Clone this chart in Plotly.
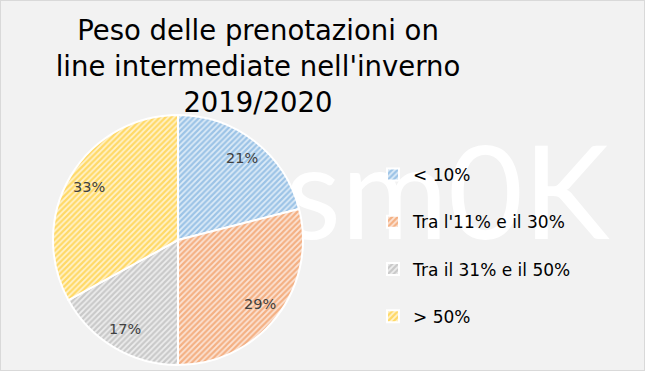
import math
import plotly.graph_objects as go

categories = ["< 10%", "Tra l'11% e il 30%", "Tra il 31% e il 50%", "> 50%"]
values = [21, 29, 17, 33]
colors = ["#5B9BD5", "#ED7D31", "#A5A5A5", "#FFC000"]
light_colors = ["#DDEBF7", "#FBE3D5", "#EDEDED", "#FFF2CC"]
title_text = "Peso delle prenotazioni on<br>line intermediate nell'inverno<br>2019/2020"
watermark = "sm0K"

W, H = 645, 371
FONT = "DejaVu Sans"

# pie geometry (pixels from top-left)
CX, CY, R = 178, 240, 125
dom_x = [(CX - R) / W, (CX + R) / W]
dom_y = [1 - (CY + R) / H, 1 - (CY - R) / H]

legend_labels = [c + "<br> " for c in categories]

fig = go.Figure()
fig.add_trace(go.Pie(
    labels=legend_labels,
    values=values,
    sort=False,
    direction="clockwise",
    rotation=0,
    marker=dict(
        colors=colors,
        line=dict(color="white", width=2),
        pattern=dict(shape="/", fgcolor=colors, bgcolor=light_colors,
                     size=4, solidity=0.55, fillmode="overlay"),
    ),
    textinfo="none",
    hoverinfo="skip",
    domain=dict(x=dom_x, y=dom_y),
))

# data labels positioned along each slice's mid-angle
total = sum(values)
annotations = []
cum = 0
for v in values:
    mid = (cum + v / 2) / total * 2 * math.pi
    cum += v
    r = 0.83 * R
    px = CX + r * math.sin(mid)
    py = CY - r * math.cos(mid)
    annotations.append(dict(text=f"{round(v / total * 100)}%", x=px / W, y=1 - py / H,
                            xref="paper", yref="paper", showarrow=False,
                            xanchor="center", yanchor="middle",
                            font=dict(family=FONT, size=14.5, color="#404040")))

fig.update_layout(
    width=W, height=H,
    margin=dict(l=0, r=0, t=0, b=0),
    paper_bgcolor="#F2F2F2",
    plot_bgcolor="#F2F2F2",
    font=dict(family=FONT, color="#000000"),
    title=dict(text=title_text, x=258 / W, xanchor="center", y=1 - 40 / H, yanchor="top",
               font=dict(family=FONT, size=27.5, color="#000000")),
    legend=dict(x=373 / W, y=1 - 157 / H, xanchor="left", yanchor="top",
                valign="top", font=dict(family=FONT, size=17, color="#000000"),
                bgcolor="rgba(0,0,0,0)", itemwidth=30),
    showlegend=True,
    annotations=annotations,
    shapes=[
        dict(type="rect", xref="paper", yref="paper", x0=0, y0=0, x1=1, y1=1,
             line=dict(color="#D9D9D9", width=2), layer="below"),
        dict(type="rect", xref="paper", yref="paper",
             x0=292 / W, x1=602 / W, y0=1 - 252 / H, y1=1 - 122 / H,
             line=dict(width=0), fillcolor="rgba(0,0,0,0)", layer="below",
             label=dict(text=watermark, textposition="middle center",
                        font=dict(family="Lato", size=130, color="#FFFFFF"))),
    ],
)

fig.write_html("out.html", config={"displayModeBar": False},
               post_script="document.body.style.margin='0px';")
